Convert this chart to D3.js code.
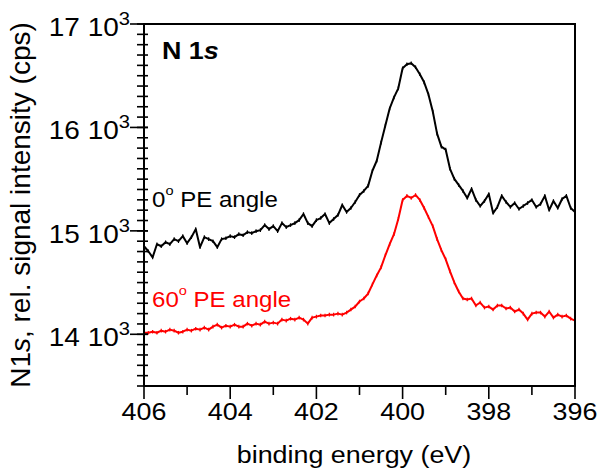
<!DOCTYPE html>
<html>
<head>
<meta charset="utf-8">
<script src="https://cdn.jsdelivr.net/npm/d3@7/dist/d3.min.js"></script>
<style>
  html, body { margin: 0; padding: 0; background: #fff; }
  svg { display: block; }
  text { font-family: "Liberation Sans", Arial, Helvetica, sans-serif; }
</style>
</head>
<body>
<svg id="chart" width="599" height="470"></svg>
<script>
// Binding energy grid (eV), 0.1 eV steps from 406 down to 396
const energies = d3.range(0, 101).map(i => +(406 - i * 0.1).toFixed(1));

// 0° PE angle (counts per second)
const angle0 = [
  14851, 14803, 14744, 14871, 14851, 14890, 14871, 14920, 14900, 14949,
  14881, 14939, 15017, 14842, 14939, 14920, 14900, 14842, 14920, 14929,
  14949, 14939, 14968, 14958, 14988, 14978, 14997, 15007, 15056, 15017,
  15046, 14997, 15075, 15036, 15056, 15075, 15104, 15163, 15075, 15046,
  15104, 15124, 15163, 15075, 15114, 15153, 15250, 15182, 15221, 15279,
  15347, 15386, 15435, 15581, 15678, 15853, 16018, 16183, 16290, 16378,
  16572, 16611, 16621, 16582, 16514, 16436, 16319, 16154, 15940, 15814,
  15785, 15600, 15503, 15444, 15386, 15318, 15406, 15299, 15240, 15289,
  15357, 15172, 15231, 15338, 15279, 15231, 15269, 15211, 15240, 15269,
  15299, 15231, 15260, 15338, 15201, 15289, 15221, 15308, 15338, 15221,
  15182
];

// 60° PE angle (counts per second)
const angle60 = [
  14015, 14015, 14025, 14015, 14035, 14025, 14045, 14035, 14015, 14025,
  14045, 14035, 14054, 14045, 14064, 14045, 14074, 14093, 14064, 14083,
  14074, 14093, 14074, 14074, 14103, 14083, 14103, 14093, 14122, 14103,
  14113, 14103, 14142, 14132, 14151, 14142, 14161, 14142, 14103, 14161,
  14171, 14181, 14181, 14190, 14190, 14200, 14190, 14210, 14239, 14268,
  14317, 14346, 14394, 14482, 14569, 14647, 14764, 14871, 14968, 15114,
  15299, 15338, 15318, 15347, 15299, 15221, 15133, 15046, 14920, 14813,
  14725, 14608, 14501, 14414, 14346, 14336, 14346, 14278, 14307, 14258,
  14268, 14239, 14278, 14278, 14249, 14258, 14220, 14239, 14200, 14142,
  14200, 14210, 14210, 14171, 14220, 14161, 14190, 14171, 14181, 14151,
  14132
];

const xDomain = [406, 396];
const yDomain = [13500, 17000];
const xMajorTicks = [406, 404, 402, 400, 398, 396];
const xMinorTicks = [405, 403, 401, 399, 397];
const yMajorTicks = [14000, 15000, 16000, 17000];
const yMinorTicks = d3.range(13500, 17001, 100);

const xTitle = "binding energy (eV)";
const seriesLabels = ["0", "60"];
const panelLabel = ["N 1", "s"];

const svg = d3.select("#chart");
const pLeft = 144, pRight = 575, pTop = 24, pBottom = 386;
const x = d3.scaleLinear().domain(xDomain).range([pLeft, pRight]);
const y = d3.scaleLinear().domain(yDomain).range([pBottom, pTop]);
const SX = 1.12;

// series lines with small point marks
const line = d3.line().x((d, i) => x(energies[i])).y(d => y(d));
[[angle0, "#000"], [angle60, "#ff0000"]].forEach(([vals, col]) => {
  svg.append("path").datum(vals)
    .attr("d", line).attr("fill", "none").attr("stroke", col)
    .attr("stroke-width", 2).attr("stroke-linejoin", "round");
  svg.append("g").selectAll("line").data(vals).enter().append("line")
    .attr("x1", (d, i) => x(energies[i])).attr("x2", (d, i) => x(energies[i]))
    .attr("y1", d => y(d) - 1.8).attr("y2", d => y(d) + 1.8)
    .attr("stroke", col).attr("stroke-width", 1.2);
});

// frame
svg.append("rect").attr("x", pLeft).attr("y", pTop)
  .attr("width", pRight - pLeft).attr("height", pBottom - pTop)
  .attr("fill", "none").attr("stroke", "#000").attr("stroke-width", 2);

// x ticks
const xt = svg.append("g");
xt.selectAll("line.maj").data(xMajorTicks).enter().append("line")
  .attr("x1", d => x(d)).attr("x2", d => x(d))
  .attr("y1", pBottom).attr("y2", pBottom + 13)
  .attr("stroke", "#000").attr("stroke-width", 1.6);
xt.selectAll("line.min").data(xMinorTicks).enter().append("line")
  .attr("x1", d => x(d)).attr("x2", d => x(d))
  .attr("y1", pBottom).attr("y2", pBottom + 9)
  .attr("stroke", "#000").attr("stroke-width", 1.6);
xt.selectAll("g.lab").data(xMajorTicks).enter().append("g")
  .attr("transform", d => `translate(${x(d)},${pBottom + 34}) scale(${SX},1)`)
  .append("text").attr("text-anchor", "middle")
  .attr("font-size", 24).attr("fill", "#000").text(d => d);

// y ticks
const yt = svg.append("g");
yt.selectAll("line.min").data(yMinorTicks).enter().append("line")
  .attr("x1", pLeft - 7).attr("x2", pLeft + 4)
  .attr("y1", d => y(d)).attr("y2", d => y(d))
  .attr("stroke", "#000").attr("stroke-width", 1.6);
yt.selectAll("line.maj").data(yMajorTicks).enter().append("line")
  .attr("x1", pLeft - 14).attr("x2", pLeft + 4)
  .attr("y1", d => y(d)).attr("y2", d => y(d))
  .attr("stroke", "#000").attr("stroke-width", 1.6);
const ylab = yt.selectAll("g.lab").data(yMajorTicks).enter().append("g")
  .attr("transform", d => `translate(${pLeft - 14},${y(d) + 12}) scale(${SX},1)`)
  .append("text").attr("text-anchor", "end").attr("font-size", 25).attr("fill", "#000");
ylab.append("tspan").text(d => `${d / 1000} 10`);
ylab.append("tspan").attr("font-size", 18).attr("dy", -11).text("3");

// x title
svg.append("g").attr("transform", `translate(354,463) scale(${SX},1)`)
  .append("text").attr("text-anchor", "middle").attr("font-size", 24)
  .attr("fill", "#000").text(xTitle);

// y title
const yTitle = svg.append("text")
  .attr("transform", "translate(30,205) rotate(-90)")
  .attr("text-anchor", "middle").attr("font-size", 28).attr("fill", "#000");
yTitle.append("tspan").text("N1");
yTitle.append("tspan").attr("font-style", "italic").text("s");
yTitle.append("tspan").text(", rel. signal intensity (cps)");

// panel label
const pl = svg.append("g").attr("transform", `translate(162,59) scale(${SX},1)`)
  .append("text").attr("font-size", 24).attr("font-weight", "bold").attr("fill", "#000");
pl.append("tspan").text(panelLabel[0]);
pl.append("tspan").attr("font-style", "italic").text(panelLabel[1]);

// series labels
function seriesLabel(txt, ly, color) {
  const t = svg.append("g").attr("transform", `translate(152,${ly}) scale(${SX},1)`)
    .append("text").attr("font-size", 21.5).attr("fill", color);
  t.append("tspan").text(txt);
  t.append("tspan").attr("font-size", 13).attr("dy", -12).text("o");
  t.append("tspan").attr("dy", 12).text(" PE angle");
}
seriesLabel(seriesLabels[0], 207, "#000");
seriesLabel(seriesLabels[1], 306.5, "#ff0000");
</script>
</body>
</html>
